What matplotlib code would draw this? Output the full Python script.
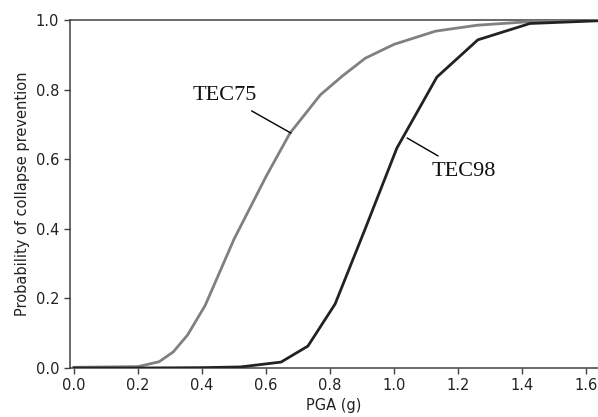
import matplotlib
matplotlib.use("Agg")
import matplotlib.pyplot as plt

# Data
pga_tec75 = [0.0, 0.2, 0.266, 0.31, 0.355, 0.41, 0.5, 0.6, 0.675, 0.77, 0.84, 0.91, 1.0, 1.13, 1.26, 1.42, 1.7]
prob_tec75 = [0.002, 0.004, 0.018, 0.046, 0.095, 0.18, 0.37, 0.55, 0.675, 0.785, 0.84, 0.89, 0.93, 0.968, 0.985, 0.995, 1.0]

pga_tec98 = [0.0, 0.2, 0.4, 0.52, 0.647, 0.731, 0.816, 0.91, 1.009, 1.134, 1.262, 1.425, 1.7]
prob_tec98 = [0.0, 0.0, 0.001, 0.003, 0.017, 0.063, 0.184, 0.40, 0.632, 0.836, 0.943, 0.99, 1.0]

x_ticks = [0.0, 0.2, 0.4, 0.6, 0.8, 1.0, 1.2, 1.4, 1.6]
y_ticks = [0.0, 0.2, 0.4, 0.6, 0.8, 1.0]

W, H = 598, 417
fig = plt.figure(figsize=(W / 100, H / 100), dpi=100)
px_per_unit = 320.0
left_px, bottom_px, top_px = 69.5, 417 - 368, 417 - 20
x_min = -4.5 / px_per_unit
x_max = x_min + (W - left_px) / px_per_unit
ax = fig.add_axes([left_px / W, bottom_px / H,
                   (W - left_px) / W, (top_px - bottom_px) / H])

ax.plot(pga_tec75, prob_tec75, color="#808080", lw=2.0, zorder=3)
ax.plot(pga_tec98, prob_tec98, color="#222222", lw=2.0, zorder=3)

ax.set_xlim(x_min, x_max)
ax.set_ylim(0, 1.0)
ax.set_xticks(x_ticks)
ax.set_yticks(y_ticks)
ax.set_xticklabels([f"{t:.1f}" for t in x_ticks])
ax.set_yticklabels([f"{t:.1f}" for t in y_ticks])

spine_col = "#404040"
for s in ["left", "bottom", "top"]:
    ax.spines[s].set_color(spine_col)
    ax.spines[s].set_linewidth(1.1)
ax.spines["right"].set_visible(False)
ax.tick_params(colors="#222222", labelsize=10.5, width=1.0, length=4,
               direction="out")
ax.tick_params(axis="both", color=spine_col)

ax.set_xlabel("PGA (g)", fontsize=10.5, color="#222222", labelpad=3)
ax.set_ylabel("Probability of collapse prevention", fontsize=10.5,
              color="#222222", labelpad=4)

serif = ["Liberation Serif", "DejaVu Serif"]
ax.annotate("TEC75", xy=(0.678, 0.675), xytext=(0.472, 0.782),
            textcoords="data", ha="center", va="center", fontsize=16,
            family=serif, color="#111111",
            arrowprops=dict(arrowstyle="-", color="black", lw=1.0,
                            shrinkA=4, shrinkB=0))
ax.annotate("TEC98", xy=(1.041, 0.661), xytext=(1.219, 0.566),
            textcoords="data", ha="center", va="center", fontsize=16,
            family=serif, color="#111111",
            arrowprops=dict(arrowstyle="-", color="black", lw=1.0,
                            shrinkA=4, shrinkB=0))

fig.savefig("out.png", dpi=100, bbox_inches=fig.bbox_inches)
